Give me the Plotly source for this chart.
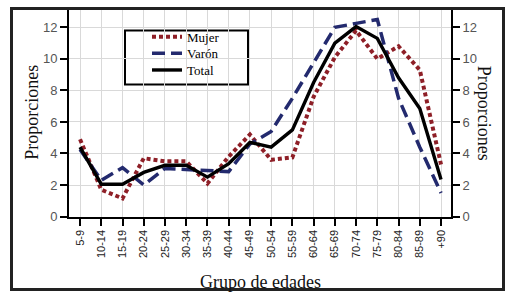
import plotly.graph_objects as go

categorias = ["5-9", "10-14", "15-19", "20-24", "25-29", "30-34", "35-39", "40-44",
              "45-49", "50-54", "55-59", "60-64", "65-69", "70-74", "75-79", "80-84",
              "85-89", "+90"]
mujer = [4.9, 1.7, 1.15, 3.7, 3.5, 3.5, 2.1, 3.8, 5.2, 3.6, 3.75, 7.6, 10.1, 11.8, 10.0, 10.8, 9.3, 3.3]
varon = [4.25, 2.3, 3.1, 2.0, 3.05, 3.0, 2.95, 2.85, 4.6, 5.4, 7.5, 9.8, 12.0, 12.25, 12.5, 7.5, 4.4, 1.5]
total = [4.4, 2.05, 2.05, 2.8, 3.25, 3.25, 2.5, 3.35, 4.7, 4.4, 5.5, 8.5, 11.0, 12.05, 11.3, 8.8, 6.85, 2.35]
y_ticks = [0, 2, 4, 6, 8, 10, 12]

W, H = 514, 303
# paper = outer frame box
FL, FR, FT, FB = 13, 502, 7, 291
pw, ph = FR - FL, FB - FT
# plot area in pixels
PL, PR, PT, PB = 69, 451, 7, 218

def px_x(x):
    return (x - FL) / pw

def px_y(y):
    return (FB - y) / ph

serif = "Liberation Serif, Times New Roman, serif"
sans = "Liberation Sans, Arial, sans-serif"

def legend_at(top_px):
    return dict(x=px_x(147), y=px_y(top_px), xanchor="left", yanchor="top",
                bgcolor="rgba(0,0,0,0)", borderwidth=0,
                font=dict(family=serif, size=13, color="#000"))

fig = go.Figure()
# dummy subplot whose mirrored axis lines form the outer frame
fig.add_trace(go.Scatter(x=[0, 1], y=[0, 1], xaxis="x3", yaxis="y3", mode="lines",
                         line=dict(color="rgba(0,0,0,0)", width=0), showlegend=False,
                         hoverinfo="skip"))
fig.add_trace(go.Scatter(x=categorias, y=mujer, name="Mujer", mode="lines", legend="legend",
                         line=dict(color="#8e1f27", width=4, dash="4px,3px")))
fig.add_trace(go.Scatter(x=categorias, y=varon, name="Varón", mode="lines", legend="legend2",
                         line=dict(color="#232a6e", width=3.5, dash="13px,6px")))
fig.add_trace(go.Scatter(x=categorias, y=total, name="Total", mode="lines", legend="legend3",
                         line=dict(color="#000000", width=3.4)))
fig.add_trace(go.Scatter(x=categorias, y=total, yaxis="y2", mode="lines",
                         line=dict(color="rgba(0,0,0,0)", width=0), showlegend=False,
                         hoverinfo="skip"))

xdom = [px_x(PL), px_x(PR)]
ydom = [px_y(PB), px_y(PT)]

frame_axis = dict(domain=[0, 1], range=[0, 1], showline=True, mirror=True,
                  linecolor="#222", linewidth=3, showgrid=False, zeroline=False,
                  showticklabels=False, ticks="", fixedrange=True)

fig.update_layout(
    width=W, height=H,
    margin=dict(l=FL, r=W - FR, t=FT, b=H - FB),
    paper_bgcolor="white", plot_bgcolor="rgba(0,0,0,0)",
    showlegend=True,
    legend=legend_at(19),
    legend2=legend_at(36),
    legend3=legend_at(53),
    xaxis3=dict(frame_axis, anchor="y3"),
    yaxis3=dict(frame_axis, anchor="x3"),
    xaxis=dict(domain=xdom, range=[-0.52, 17.47], tickmode="array", tickvals=categorias,
               tickangle=-90, ticks="outside", ticklen=7, tickwidth=2, tickcolor="#000",
               showline=True, linecolor="#000", linewidth=2,
               showgrid=True, gridcolor="#d9d9d9", gridwidth=1,
               tickfont=dict(family=sans, size=11, color="#222"), zeroline=False),
    yaxis=dict(domain=ydom, range=[0, 13.1], tickvals=y_ticks, ticks="outside", ticklen=7,
               tickwidth=2, tickcolor="#000", showline=True, linecolor="#000", linewidth=2,
               showgrid=True, gridcolor="#d9d9d9", gridwidth=1, zeroline=False,
               tickfont=dict(family=sans, size=13, color="#555")),
    yaxis2=dict(domain=ydom, range=[0, 13.1], tickvals=y_ticks, overlaying="y", side="right",
                ticks="outside", ticklen=7, tickwidth=2, tickcolor="#000",
                showline=True, linecolor="#000", linewidth=2, showgrid=False,
                zeroline=False, tickfont=dict(family=sans, size=13, color="#555")),
)

# legend box
fig.add_shape(type="rect", xref="paper", yref="paper",
              x0=px_x(125), x1=px_x(248), y0=px_y(83), y1=px_y(28),
              line=dict(color="#000", width=2), fillcolor="white", layer="below")

fig.add_annotation(text="Grupo de edades", xref="paper", yref="paper",
                   x=px_x(260), y=px_y(285), showarrow=False,
                   xanchor="center", yanchor="middle",
                   font=dict(family=serif, size=18, color="#111"))
fig.add_annotation(text="Proporciones", xref="paper", yref="paper",
                   x=px_x(32), y=px_y(112), showarrow=False, textangle=-90,
                   xanchor="center", yanchor="middle",
                   font=dict(family=serif, size=18, color="#111"))
fig.add_annotation(text="Proporciones", xref="paper", yref="paper",
                   x=px_x(484), y=px_y(112), showarrow=False, textangle=90,
                   xanchor="center", yanchor="middle",
                   font=dict(family=serif, size=18, color="#111"))

fig.write_html("out.html")
